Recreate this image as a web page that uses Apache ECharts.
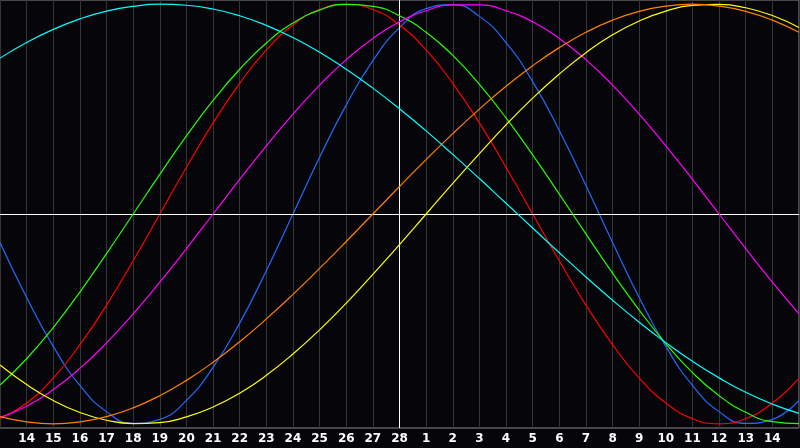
<!DOCTYPE html>
<html>
<head>
<meta charset="utf-8">
<script src="https://cdn.jsdelivr.net/npm/echarts@6/dist/echarts.min.js"></script>
<style>
html,body{margin:0;padding:0;background:#060509;}
#chart{width:800px;height:448px;}
</style>
</head>
<body>
<div id="chart"></div>
<script>
// day positions (0..30) and their tick labels
const dayIndex = [0,1,2,3,4,5,6,7,8,9,10,11,12,13,14,15,16,17,18,19,20,21,22,23,24,25,26,27,28,29,30];
const dayLabels = ['13','14','15','16','17','18','19','20','21','22','23','24','25','26','27','28','1','2','3','4','5','6','7','8','9','10','11','12','13','14','15'];
const todayIndex = 15;

// cycle values, one per day
const physical = [-0.136,-0.398,-0.631,-0.817,-0.942,-0.998,-0.979,-0.888,-0.731,-0.520,-0.270,0,0.270,0.520,0.731,0.888,0.979,0.998,0.942,0.817,0.631,0.398,0.136,-0.136,-0.398,-0.631,-0.817,-0.942,-0.998,-0.979,-0.888];
const emotional = [-0.975,-0.901,-0.782,-0.623,-0.434,-0.223,0,0.223,0.434,0.623,0.782,0.901,0.975,1.000,0.975,0.901,0.782,0.623,0.434,0.223,0,-0.223,-0.434,-0.623,-0.782,-0.901,-0.975,-1.000,-0.975,-0.901,-0.782];
const intellectual = [-0.815,-0.690,-0.541,-0.372,-0.189,0,0.189,0.372,0.541,0.690,0.815,0.910,0.972,0.999,0.990,0.945,0.866,0.756,0.618,0.458,0.282,0.095,-0.095,-0.282,-0.458,-0.618,-0.756,-0.866,-0.945,-0.990,-0.999];
const intuitive = [-0.969,-0.916,-0.837,-0.736,-0.614,-0.476,-0.325,-0.165,0,0.165,0.325,0.476,0.614,0.736,0.837,0.916,0.969,0.997,0.997,0.969,0.916,0.837,0.736,0.614,0.476,0.325,0.165,0,-0.165,-0.325,-0.476];
const aesthetic = [-0.720,-0.813,-0.889,-0.946,-0.983,-0.999,-0.994,-0.967,-0.920,-0.854,-0.769,-0.667,-0.552,-0.425,-0.288,-0.146,0,0.146,0.288,0.425,0.552,0.667,0.769,0.854,0.920,0.967,0.994,0.999,0.983,0.946,0.889];
const awareness = [-0.966,-0.991,-1.000,-0.991,-0.966,-0.924,-0.866,-0.793,-0.707,-0.609,-0.500,-0.383,-0.259,-0.131,0,0.131,0.259,0.383,0.500,0.609,0.707,0.793,0.866,0.924,0.966,0.991,1.000,0.991,0.966,0.924,0.866];
const spiritual = [0.743,0.817,0.880,0.930,0.967,0.990,1.000,0.995,0.977,0.945,0.899,0.841,0.771,0.690,0.600,0.502,0.396,0.284,0.169,0.051,-0.067,-0.185,-0.300,-0.411,-0.516,-0.613,-0.702,-0.781,-0.850,-0.906,-0.950];

const seriesNames = ['Physical','Emotional','Intellectual','Intuitive','Aesthetic','Awareness','Spiritual'];
const seriesValues = [physical, emotional, intellectual, intuitive, aesthetic, awareness, spiritual];
const seriesColors = ['#1f6bff','#ff0000','#22ff00','#ff00ff','#ffff00','#ff8000','#00ffff'];

const chart = echarts.init(document.getElementById('chart'), null, {renderer:'canvas'});

const series = seriesValues.map((vals, s) => ({
  name: seriesNames[s],
  type: 'line',
  smooth: true,
  showSymbol: false,
  silent: true,
  lineStyle: {color: seriesColors[s], width: 1.2},
  itemStyle: {color: seriesColors[s]},
  data: dayIndex.map((d, i) => [d, vals[i]]),
  z: 3 + s
}));

series.push({
  type: 'line',
  data: [],
  silent: true,
  z: 2,
  markLine: {
    silent: true,
    symbol: ['none','none'],
    label: {show: false},
    lineStyle: {color: '#ffffff', width: 1, type: 'solid'},
    data: [{xAxis: todayIndex}, {yAxis: 0}]
  }
});

chart.setOption({
  animation: false,
  backgroundColor: '#060509',
  grid: {left: 0, right: 1, top: 0, bottom: 20, show: true, borderColor: '#8a8a8a', borderWidth: 1, backgroundColor: 'transparent'},
  xAxis: {
    type: 'value',
    min: 0, max: 30, interval: 1,
    axisLine: {show: true, lineStyle: {color: '#8a8a8a'}},
    axisTick: {show: false},
    splitLine: {show: true, lineStyle: {color: '#353535', width: 1}},
    axisLabel: {
      color: '#ffffff',
      fontWeight: 'bold',
      fontSize: 12,
      fontFamily: 'DejaVu Sans',
      margin: 5,
      showMinLabel: false,
      showMaxLabel: false,
      formatter: v => (v <= 0 || v >= 30) ? '' : dayLabels[Math.round(v)]
    }
  },
  yAxis: {
    type: 'value',
    min: -1.02, max: 1.02,
    show: false,
    splitLine: {show: false}
  },
  series: series
});
</script>
</body>
</html>
